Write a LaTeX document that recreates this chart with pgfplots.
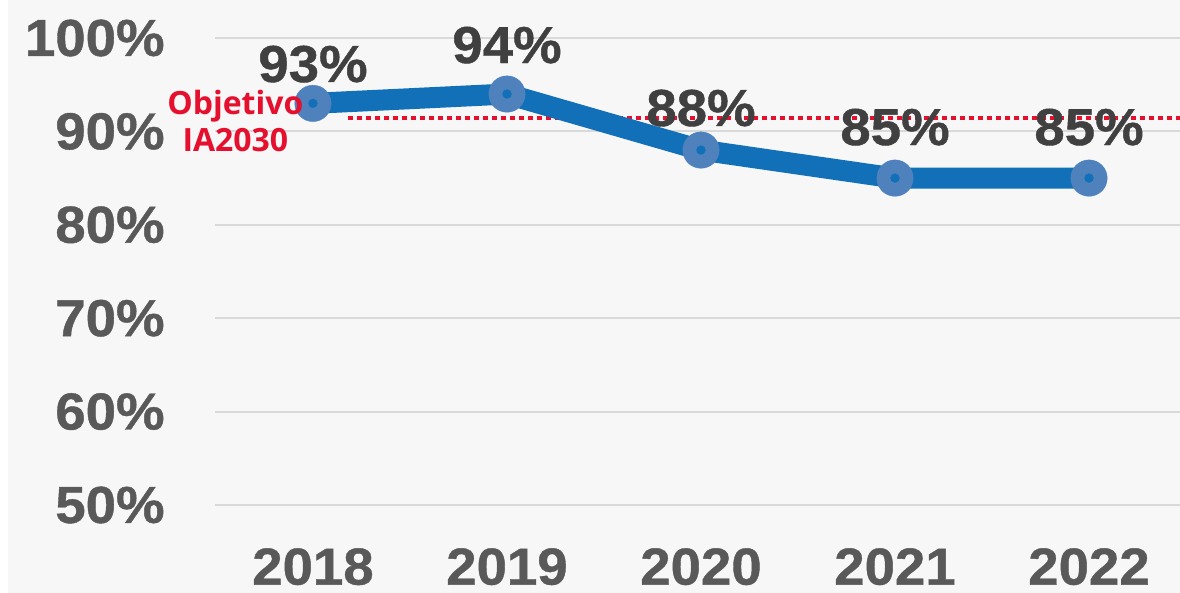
\documentclass[border=0pt]{standalone}
\usepackage{pgfplots}
\pgfplotsset{compat=1.18}
\usepackage{fontspec}
\setmainfont{Liberation Sans}[BoldFeatures={FakeStretch=1.05,FakeBold=0.8}]
\newfontfamily\osans{Open Sans}
\definecolor{bgc}{RGB}{247,247,247}
\definecolor{gridc}{RGB}{217,217,217}
\definecolor{tickc}{RGB}{89,89,89}
\definecolor{labc}{RGB}{64,64,64}
\definecolor{lineblue}{RGB}{17,112,183}
\definecolor{markblue}{RGB}{79,129,189}
\definecolor{targetred}{RGB}{228,16,46}
\begin{document}
\begin{tikzpicture}
\fill[white] (-107.5pt,-44pt) rectangle (482.5pt,252.5pt);
\fill[bgc] (-103.5pt,-44pt) rectangle (482.5pt,252.5pt);
\begin{axis}[
  scale only axis,
  width=482.5pt, height=233.5pt,
  xmin=2017.495, xmax=2022.469,
  ymin=50, ymax=100,
  axis line style={draw=none},
  major tick length=0pt,
  xtick={2018,2019,2020,2021,2022},
  xticklabels={2018,2019,2020,2021,2022},
  ytick={50,60,70,80,90,100},
  yticklabels={50\%,60\%,70\%,80\%,90\%,100\%},
  ymajorgrids,
  grid style={gridc, line width=1pt},
  ticklabel style={font=\fontsize{26}{30}\selectfont\bfseries, text=tickc, inner sep=0pt},
  yticklabel style={anchor=east, xshift=-25pt},
  xticklabel style={anchor=north, yshift=-21pt, text depth=0pt, text height=18.6pt},
  clip=false,
]
\addplot[targetred, line width=2pt, dash pattern=on 2.5pt off 2pt] coordinates {(2018.18,91.4) (2022.469,91.4)};
\addplot[lineblue, line width=10.5pt, mark=none] coordinates {
  (2018,93) (2019,94) (2020,88) (2021,85) (2022,85)};
\addplot[only marks, mark=*, mark size=9.1pt,
  mark options={fill=markblue, draw=markblue, line width=0.2pt}] coordinates {
  (2018,93) (2019,94) (2020,88) (2021,85) (2022,85)};
\addplot[only marks, mark=*, mark size=2.2pt, mark options={fill=lineblue, draw=lineblue, line width=0.2pt}] coordinates {
  (2018,93) (2019,94) (2020,88) (2021,85) (2022,85)};
\addplot[only marks, mark=none,
  nodes near coords, point meta=explicit symbolic,
  every node near coord/.style={anchor=base, inner sep=0pt, text=labc, font=\fontsize{26}{30}\selectfont\bfseries}]
  coordinates {
  (2018,95.29) [93\%]
  (2019,97.32) [94\%]
  (2020,90.58) [88\%]
  (2021,88.54) [85\%]
  (2022,88.54) [85\%]};
\coordinate (obj) at (axis cs:2017.6,91.1);
\end{axis}
\node[align=center, text=targetred, font=\osans\fontsize{16}{18.5}\selectfont\bfseries, inner sep=0pt]
  at (obj) {Objetivo\\IA2030};
\pgfresetboundingbox
\useasboundingbox (-107.5pt,-44pt) rectangle (482.5pt,252.5pt);
\end{tikzpicture}
\end{document}
